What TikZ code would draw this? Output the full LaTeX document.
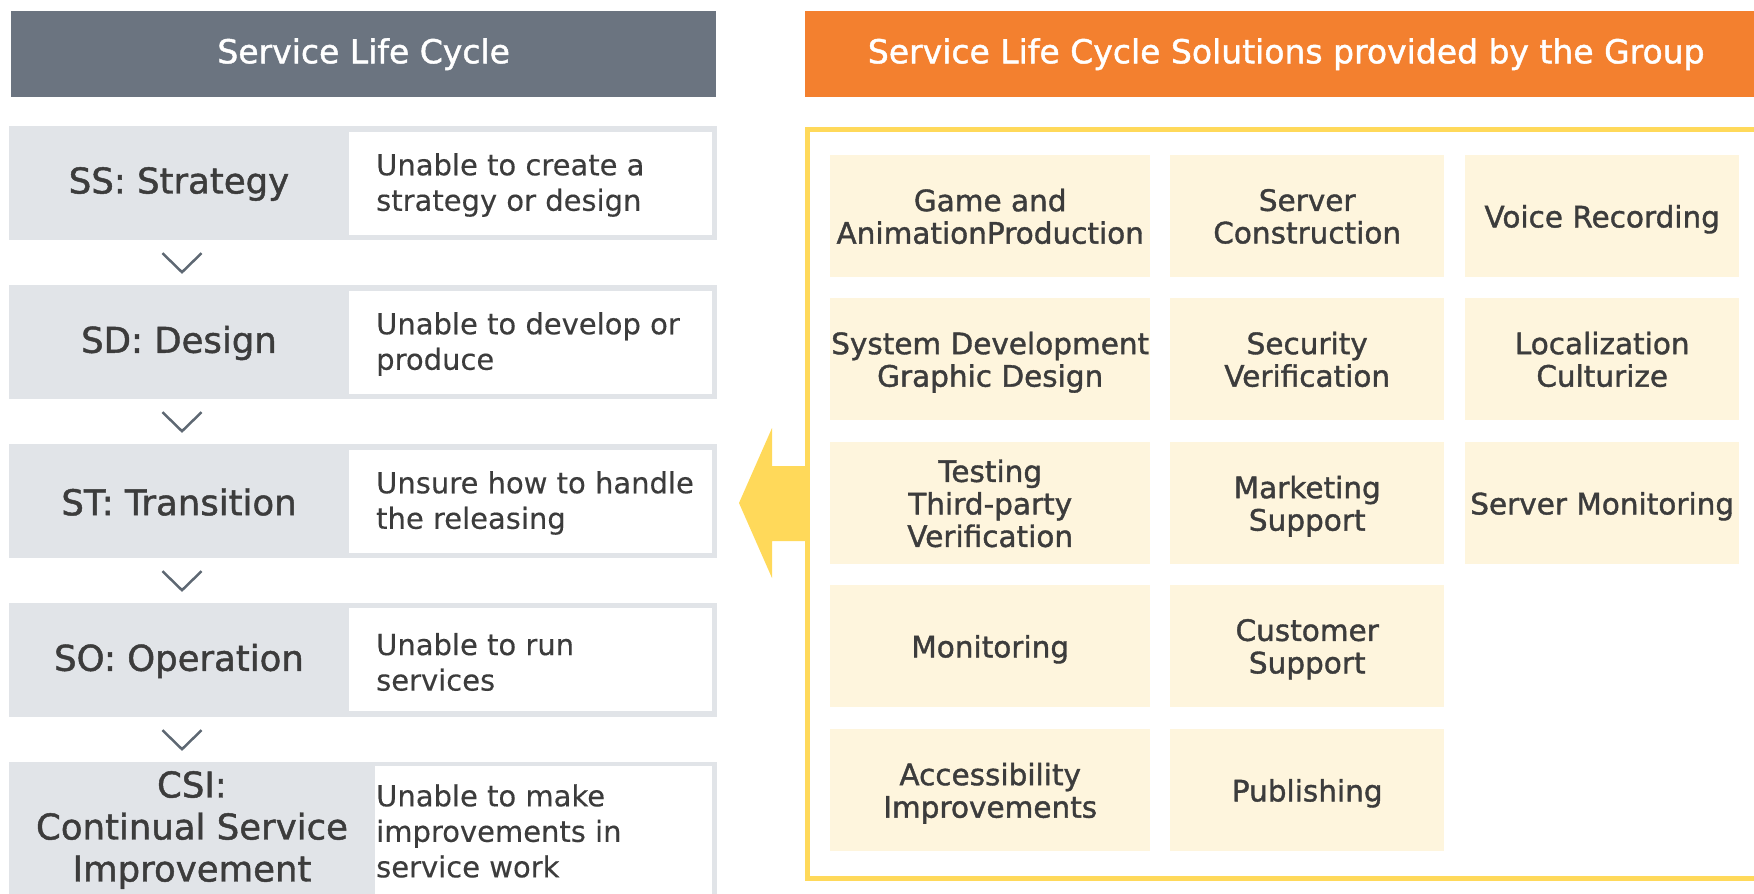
\documentclass[tikz,border=0pt]{standalone}
\usepackage{fontspec}
\setmainfont{DejaVu Sans}
\newfontfamily\medfont[FakeBold=1.3]{DejaVu Sans}
\newfontfamily\bodyfont[FakeBold=0.3]{DejaVu Sans}
\usetikzlibrary{calc}
\definecolor{hdrgray}{HTML}{6B7480}
\definecolor{hdrorange}{HTML}{F3802F}
\definecolor{rowgray}{HTML}{E1E4E8}
\definecolor{cream}{HTML}{FEF5DD}
\definecolor{frameyellow}{HTML}{FFD95A}
\definecolor{txt}{HTML}{3C3C3C}
\definecolor{chev}{HTML}{5E6873}
\begin{document}
\begin{tikzpicture}[x=1pt,y=-1pt,
  hdr/.style={inner sep=0pt, anchor=north west, text=white, minimum height=86pt,
    font=\medfont\fontsize{33}{38}\selectfont},
  rowbox/.style={inner sep=0pt, anchor=north west, fill=rowgray, minimum width=708pt, minimum height=114pt},
  whitebox/.style={inner sep=0pt, anchor=north west, fill=white},
  title/.style={inner sep=0pt, align=center, text=txt, font=\medfont\fontsize{35.5}{42}\selectfont},
  body/.style={inner sep=0pt, anchor=west, align=left, text=txt, font=\bodyfont\fontsize{29}{35.5}\selectfont},
  cell/.style={inner sep=0pt, anchor=north west, fill=cream, minimum height=122pt, align=center,
    text depth=-4pt, text=txt, font=\medfont\fontsize{29.5}{32.5}\selectfont},
  chevron/.style={draw=chev, line width=2.5pt},
  frame/.style={draw=frameyellow, line width=5pt}
]
\useasboundingbox (0,0) rectangle (1754,894);
\clip (0,0) rectangle (1754,894);

% headers
\node[hdr, fill=hdrgray, minimum width=705pt] (h1) at (11,11) {Service Life Cycle};
\node[hdr, fill=hdrorange, minimum width=962pt] (h2) at (805,11) {Service Life Cycle Solutions provided by the Group};

% left rows
\node[rowbox] (r1) at (9,126) {};
\node[rowbox] (r2) at (9,285) {};
\node[rowbox] (r3) at (9,444) {};
\node[rowbox] (r4) at (9,603) {};
\node[rowbox, minimum height=150pt] (r5) at (9,762) {};

\node[whitebox, minimum width=363pt, minimum height=103pt] (w1) at (349,132) {};
\node[whitebox, minimum width=363pt, minimum height=103pt] (w2) at (349,291) {};
\node[whitebox, minimum width=363pt, minimum height=103pt] (w3) at (349,450) {};
\node[whitebox, minimum width=363pt, minimum height=103pt] (w4) at (349,608) {};
\node[whitebox, minimum width=337pt, minimum height=140pt] (w5) at (375,766) {};

\node[title] (t1) at (179,184) {SS: Strategy};
\node[title] (t2) at (179,343) {SD: Design};
\node[title] (t3) at (179,502) {ST: Transition};
\node[title] (t4) at (179,661) {SO: Operation};
\node[title] (t5) at (192,830) {CSI:\\Continual Service\\Improvement};

\node[body] (b1) at (376,185) {Unable to create a\\strategy or design};
\node[body] (b2) at (376,344) {Unable to develop or\\produce};
\node[body] (b3) at (376,503) {Unsure how to handle\\the releasing};
\node[body] (b4) at (376,662) {Unable to run\\services};
\node[body] (b5) at (376,831) {Unable to make\\improvements in\\service work};

% chevrons between rows
\foreach \a/\b in {r1/r2,r2/r3,r3/r4,r4/r5}{
  \coordinate (c-\a) at ($($(\a.south west)!0.5!(\b.north west)$)+(173,0)$);
  \draw[chevron] ($(c-\a)+(-19.5,-9.5)$) -- ($(c-\a)+(0,9.5)$) -- ($(c-\a)+(19.5,-9.5)$);
}

% yellow frame and arrow
\draw[frame] (807,129.5) rectangle (1775,878);
\fill[frameyellow] (739,503) -- (772,428) -- (772,466) -- (807,466) -- (807,541)
  -- (772,541) -- (772,578) -- cycle;

% cells
\node[cell, minimum width=320pt] (c11) at (830,155) {Game and\\AnimationProduction};
\node[cell, minimum width=274pt] (c12) at (1170,155) {Server\\Construction};
\node[cell, minimum width=274pt] (c13) at (1465,155) {Voice Recording};
\node[cell, minimum width=320pt] (c21) at (830,298) {System Development\\Graphic Design};
\node[cell, minimum width=274pt] (c22) at (1170,298) {Security\\Verification};
\node[cell, minimum width=274pt] (c23) at (1465,298) {Localization\\Culturize};
\node[cell, minimum width=320pt] (c31) at (830,442) {Testing\\Third-party\\Verification};
\node[cell, minimum width=274pt] (c32) at (1170,442) {Marketing\\Support};
\node[cell, minimum width=274pt] (c33) at (1465,442) {Server Monitoring};
\node[cell, minimum width=320pt] (c41) at (830,585) {Monitoring};
\node[cell, minimum width=274pt] (c42) at (1170,585) {Customer\\Support};
\node[cell, minimum width=320pt] (c51) at (830,729) {Accessibility\\Improvements};
\node[cell, minimum width=274pt] (c52) at (1170,729) {Publishing};
\end{tikzpicture}
\end{document}
